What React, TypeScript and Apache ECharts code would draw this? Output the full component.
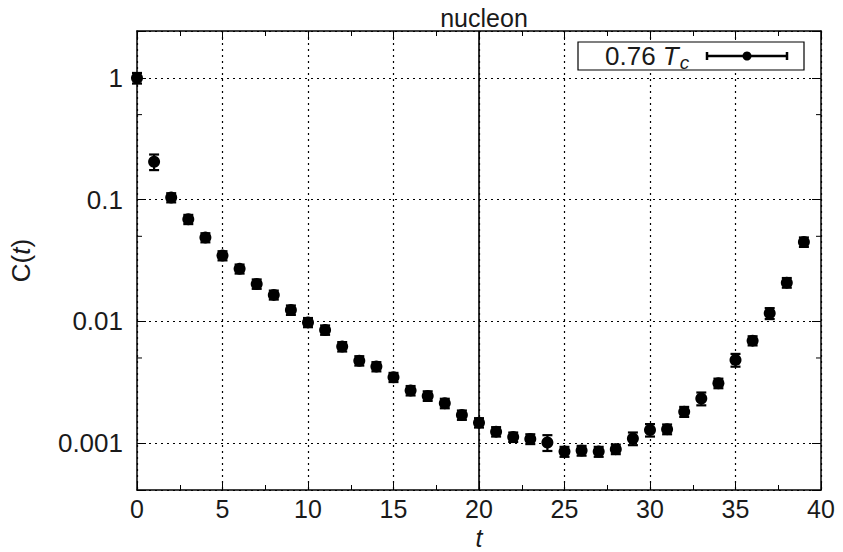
import React, { useEffect, useRef } from 'react';
import * as echarts from 'echarts';

// Euclidean time slices
const tValues = [
  0, 1, 2, 3, 4, 5, 6, 7, 8, 9,
  10, 11, 12, 13, 14, 15, 16, 17, 18, 19,
  20, 21, 22, 23, 24, 25, 26, 27, 28, 29,
  30, 31, 32, 33, 34, 35, 36, 37, 38, 39,
];
// nucleon correlator C(t)
const corr = [
  1.0, 0.205, 0.104, 0.069, 0.0488, 0.0347, 0.027, 0.0203, 0.0165, 0.0124,
  0.0098, 0.0085, 0.0062, 0.00475, 0.00425, 0.00347, 0.0027, 0.00244, 0.00212, 0.0017,
  0.00147, 0.00124, 0.00112, 0.00108, 0.00101, 0.00085, 0.000867, 0.00085, 0.00089, 0.00109,
  0.00128, 0.0013, 0.00181, 0.00232, 0.0031, 0.00482, 0.00694, 0.01164, 0.0208, 0.0449,
];
// statistical errors of C(t)
const corrErr = [
  0.1, 0.03, 0.009, 0.006, 0.0042, 0.003, 0.0023, 0.0018, 0.0014, 0.0011,
  0.00085, 0.00075, 0.00055, 0.00042, 0.00037, 0.0003, 0.00024, 0.00022, 0.00019, 0.00015,
  0.00013, 0.00011, 0.0001, 0.0001, 0.00015, 0.00008, 0.00008, 0.00008, 0.00008, 0.00013,
  0.00015, 0.00012, 0.00017, 0.00028, 0.00028, 0.00058, 0.0006, 0.0012, 0.0019, 0.004,
];
const xRange = [0, 40];
const xInterval = 5;
const yRange = [0.000411, 2.434];
const yMinorTicks = [0.5, 0.05, 0.005];
const vLineAt = 20;
const titleText = 'nucleon';
const legendValue = '0.76';

const FONT = '"Liberation Sans", Arial, sans-serif';
const TXT = '#1a1a1a';

export default function App() {
  const ref = useRef<HTMLDivElement>(null);

  useEffect(() => {
    if (!ref.current) return;
    const chart = echarts.init(ref.current, null, { renderer: 'svg' });
    const data = tValues.map((t, i) => [t, corr[i], corrErr[i]]);
    const dotted = { show: true, lineStyle: { color: '#000', type: [2, 4] as any, width: 1.2 } };
    const axisLine = { show: true, onZero: false, lineStyle: { color: '#000', width: 1.5 } };

    const yFmt = (v: number) => {
      const e = Math.log10(v);
      const r = Math.round(e);
      if (Math.abs(e - r) > 1e-6) return '';
      return r >= 0 ? String(Math.pow(10, r)) : Math.pow(10, r).toFixed(-r);
    };

    const option: any = {
      animation: false,
      title: {
        text: titleText,
        left: 479,
        textAlign: 'center',
        top: 0,
        textStyle: { fontFamily: FONT, fontSize: 25, fontWeight: 'normal', color: TXT },
      },
      grid: { left: 137, right: 22, top: 31, bottom: 62, containLabel: false, outerBoundsMode: 'none' },
      xAxis: [
        {
          type: 'value',
          min: xRange[0],
          max: xRange[1],
          interval: xInterval,
          position: 'bottom',
          axisLine,
          axisTick: { show: true, inside: true, length: 9, lineStyle: { color: '#000', width: 1 } },
          minorTick: { show: true, splitNumber: 2, length: 5, lineStyle: { color: '#000', width: 1 } },
          splitLine: dotted,
          axisLabel: { fontFamily: FONT, fontSize: 25, color: TXT, margin: 6 },
          name: 't',
          nameLocation: 'middle',
          nameGap: 31,
          nameTextStyle: { fontFamily: FONT, fontSize: 25, fontStyle: 'italic', color: TXT },
        },
        {
          type: 'value',
          min: xRange[0],
          max: xRange[1],
          interval: xInterval,
          position: 'top',
          axisLine,
          axisTick: { show: true, inside: true, length: 9, lineStyle: { color: '#000', width: 1 } },
          minorTick: { show: true, splitNumber: 2, length: 5, lineStyle: { color: '#000', width: 1 } },
          splitLine: { show: false },
          axisLabel: { show: false },
        },
      ],
      yAxis: [
        {
          type: 'log',
          logBase: 10,
          min: yRange[0],
          max: yRange[1],
          position: 'left',
          axisLine,
          axisTick: { show: true, inside: true, length: 9, lineStyle: { color: '#000', width: 1 } },
          splitLine: dotted,
          axisLabel: { fontFamily: FONT, fontSize: 26, color: TXT, margin: 14, formatter: yFmt },
          name: '{n|C(}{i|t}{n|)}',
          nameLocation: 'middle',
          nameGap: 103,
          nameTextStyle: {
            rich: {
              n: { fontFamily: FONT, fontSize: 26, color: TXT },
              i: { fontFamily: FONT, fontSize: 26, fontStyle: 'italic', color: TXT },
            },
          },
        },
        {
          type: 'log',
          logBase: 10,
          min: yRange[0],
          max: yRange[1],
          position: 'right',
          axisLine,
          axisTick: { show: true, inside: true, length: 9, lineStyle: { color: '#000', width: 1 } },
          splitLine: { show: false },
          axisLabel: { show: false },
        },
      ],
      series: [
        {
          type: 'custom',
          xAxisIndex: 0,
          yAxisIndex: 0,
          data,
          z: 3,
          renderItem: (params: any, api: any) => {
            const t = api.value(0);
            const v = api.value(1);
            const e = api.value(2);
            const lo = api.coord([t, v - e]);
            const hi = api.coord([t, v + e]);
            const cap = 5;
            const style = { stroke: '#000', lineWidth: 2.2 };
            return {
              type: 'group',
              children: [
                { type: 'line', shape: { x1: lo[0], y1: lo[1], x2: hi[0], y2: hi[1] }, style },
                { type: 'line', shape: { x1: lo[0] - cap, y1: lo[1], x2: lo[0] + cap, y2: lo[1] }, style },
                { type: 'line', shape: { x1: hi[0] - cap, y1: hi[1], x2: hi[0] + cap, y2: hi[1] }, style },
              ],
            };
          },
        },
        {
          type: 'scatter',
          xAxisIndex: 0,
          yAxisIndex: 0,
          data: data.map((d) => [d[0], d[1]]),
          symbol: 'circle',
          symbolSize: 12,
          itemStyle: { color: '#000', opacity: 1 },
          z: 4,
          markLine: {
            silent: true,
            symbol: 'none',
            label: { show: false },
            lineStyle: { color: '#000', type: 'solid', width: 1.6 },
            data: [{ xAxis: vLineAt }],
          },
        },
      ],
    };
    chart.setOption(option);

    // minor ticks on the log axes (left and right), placed through the axes' own scales
    const xl = chart.convertToPixel({ xAxisIndex: 0 }, xRange[0]) as number;
    const xr = chart.convertToPixel({ xAxisIndex: 0 }, xRange[1]) as number;
    const tickEls: any[] = [];
    yMinorTicks.forEach((v) => {
      const y = chart.convertToPixel({ yAxisIndex: 0 }, v) as number;
      tickEls.push({ type: 'line', shape: { x1: xl, y1: y, x2: xl + 5, y2: y }, style: { stroke: '#000', lineWidth: 1 } });
      tickEls.push({ type: 'line', shape: { x1: xr - 5, y1: y, x2: xr, y2: y }, style: { stroke: '#000', lineWidth: 1 } });
    });

    const legendY = 56;
    const legend = [
      { type: 'rect', shape: { x: 578, y: 42, width: 226, height: 28 }, style: { fill: '#fff', stroke: '#000', lineWidth: 1.2 }, z: 10 },
      {
        type: 'text',
        x: 605,
        y: legendY,
        z: 11,
        style: {
          text: '{a|' + legendValue + ' }{b|T}{c|c}',
          verticalAlign: 'middle',
          rich: {
            a: { fontFamily: FONT, fontSize: 26, fill: TXT },
            b: { fontFamily: FONT, fontSize: 26, fontStyle: 'italic', fill: TXT },
            c: { fontFamily: FONT, fontSize: 19, fontStyle: 'italic', fill: TXT, padding: [12, 0, 0, 1] },
          },
        },
      },
      { type: 'line', shape: { x1: 707, y1: legendY, x2: 787, y2: legendY }, style: { stroke: '#000', lineWidth: 2.5 }, z: 11 },
      { type: 'line', shape: { x1: 707, y1: legendY - 4, x2: 707, y2: legendY + 4 }, style: { stroke: '#000', lineWidth: 2.5 }, z: 11 },
      { type: 'line', shape: { x1: 787, y1: legendY - 4, x2: 787, y2: legendY + 4 }, style: { stroke: '#000', lineWidth: 2.5 }, z: 11 },
      { type: 'circle', shape: { cx: 747, cy: legendY, r: 4.5 }, style: { fill: '#000' }, z: 11 },
    ];

    chart.setOption({ graphic: [...tickEls, ...legend] });

    return () => chart.dispose();
  }, []);

  return (
    <div
      ref={ref}
      style={{ position: 'fixed', left: 0, top: 0, width: 843, height: 552, background: '#fff' }}
    />
  );
}
